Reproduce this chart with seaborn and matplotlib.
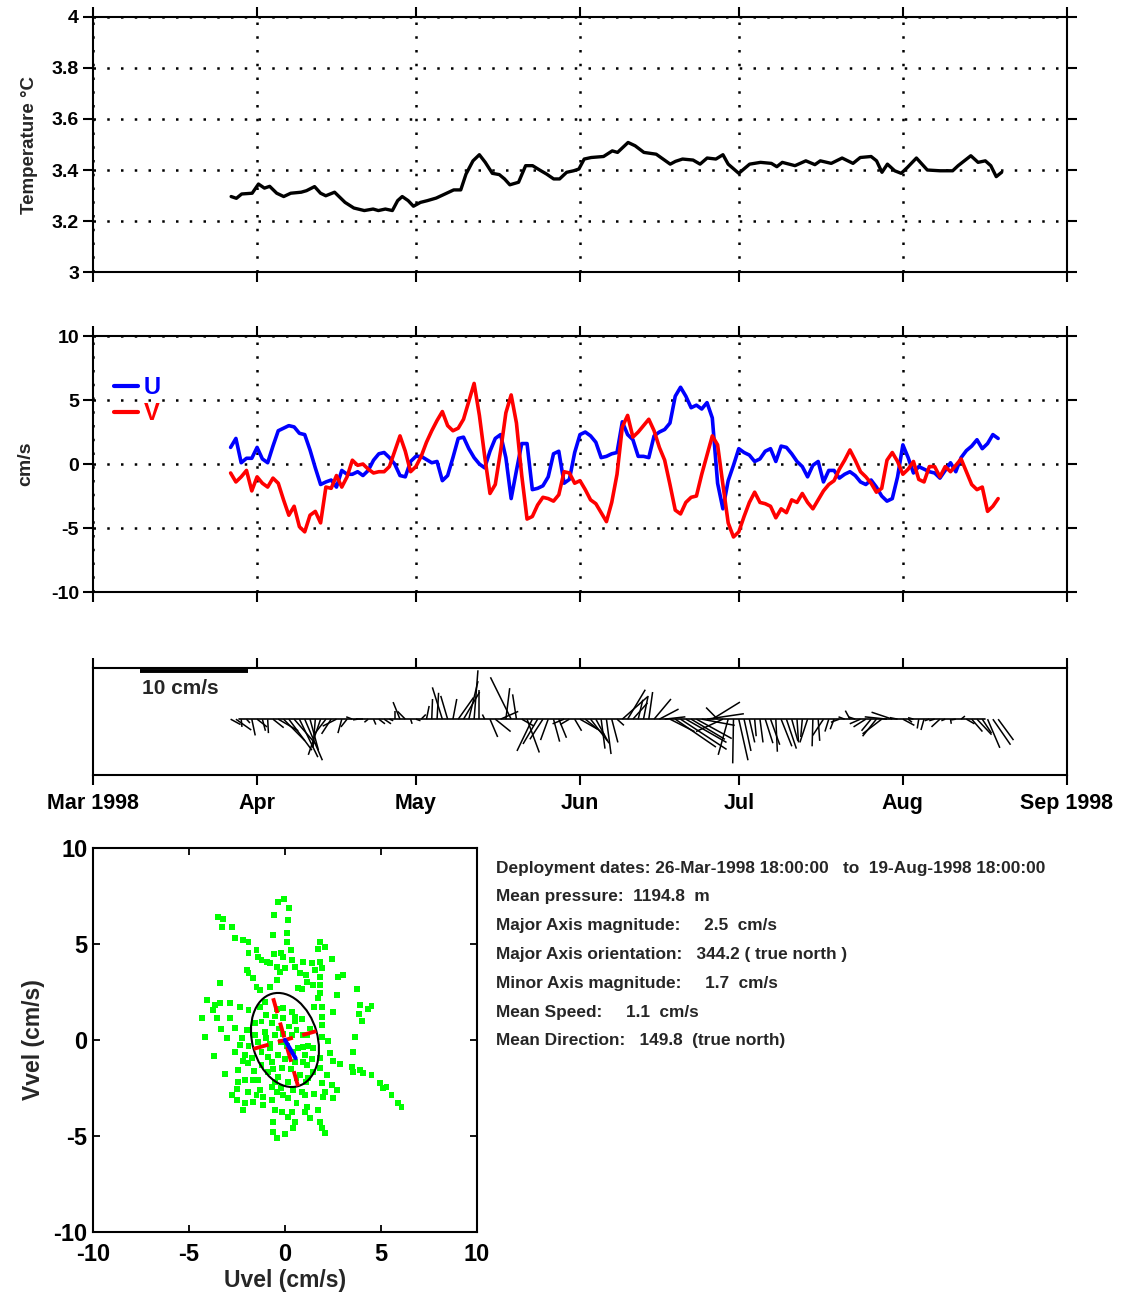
import numpy as np
import pandas as pd
import seaborn as sns
import matplotlib
import matplotlib.pyplot as plt
import matplotlib.dates as mdates
from matplotlib.patches import Ellipse
from matplotlib.collections import LineCollection
from matplotlib.ticker import FormatStrFormatter

#Theme first, fonts after (set_theme resets font.family)
sns.set_theme(style="ticks")
plt.rcParams["font.family"] = ["Liberation Sans", "DejaVu Sans"]
plt.rcParams["font.weight"] = "bold"
plt.rcParams["axes.labelweight"] = "bold"
plt.rcParams["axes.unicode_minus"] = False

#Data (days counted from 1998-03-01)
temp_days = [26.10, 27.09, 28.09, 30.07, 31.26, 32.39, 33.38, 34.71, 36.03, 37.36, 39.34, 40.34,
             41.86, 42.99, 43.98, 45.64, 46.63, 47.62, 49.28, 51.26, 52.92, 53.91, 55.24, 56.56,
             57.56, 58.42, 59.54, 60.54, 61.86, 63.19, 64.84, 66.50, 68.15, 69.48, 70.47, 71.79,
             72.99, 74.11, 75.44, 76.76, 77.75, 78.75, 80.40, 81.73, 83.05, 84.38, 85.70, 87.03,
             88.15, 89.48, 90.81, 91.80, 92.80, 94.12, 96.45, 98.10, 99.10, 101.09, 102.42, 104.08,
             106.40, 109.05, 110.05, 111.38, 113.37, 114.69, 116.02, 117.68, 119.01, 120.00, 122.00,
             124.05, 126.11, 128.16, 129.19, 130.22, 132.62, 134.67, 136.38, 137.41, 139.47, 141.52,
             143.58, 144.95, 147.00, 148.03, 149.05, 150.08, 151.45, 152.68, 153.85, 155.56, 157.62,
             160.01, 162.41, 163.44, 165.84, 167.21, 168.58, 169.61, 170.64, 171.66]
temp_vals = [3.296, 3.289, 3.306, 3.309, 3.345, 3.329, 3.336, 3.309, 3.296, 3.309, 3.313, 3.319,
             3.335, 3.309, 3.299, 3.313, 3.293, 3.273, 3.251, 3.241, 3.247, 3.241, 3.247, 3.241,
             3.280, 3.296, 3.280, 3.258, 3.273, 3.280, 3.290, 3.306, 3.322, 3.322, 3.384, 3.436,
             3.460, 3.430, 3.387, 3.382, 3.365, 3.342, 3.352, 3.417, 3.417, 3.400, 3.384, 3.365,
             3.365, 3.391, 3.397, 3.404, 3.443, 3.449, 3.453, 3.475, 3.469, 3.508, 3.495, 3.469,
             3.462, 3.423, 3.434, 3.443, 3.439, 3.423, 3.447, 3.443, 3.460, 3.423, 3.387,
             3.423, 3.430, 3.426, 3.413, 3.430, 3.417, 3.436, 3.421, 3.436, 3.426, 3.447,
             3.426, 3.449, 3.453, 3.436, 3.391, 3.423, 3.397, 3.387, 3.410, 3.447, 3.400,
             3.397, 3.397, 3.417, 3.456, 3.430, 3.436, 3.417, 3.374, 3.391]

uv_days = list(range(26, 172))
u_vals = [1.3, 2.0, 0.1, 0.45, 0.45, 1.3, 0.4, 0.1, 1.4, 2.6, 2.8, 3.0, 2.9, 2.4, 2.3, 1.1,
          -0.3, -1.6, -1.4, -1.25, -1.8, -0.5, -0.8, -0.8, -0.6, -0.9, -0.5, 0.3, 0.8, 0.9,
          0.5, 0.0, -0.9, -1.0, 0.2, 0.6, 0.6, 0.35, 0.1, 0.2, -1.3, -0.9, 0.5, 2.0, 2.1, 1.2,
          0.5, 0.0, -0.3, 1.0, 2.0, 2.3, 0.5, -2.7, -0.5, 1.6, 1.6, -2.0, -1.9, -1.7, -1.0, 0.8,
          1.0, -1.5, -1.2, 0.9, 2.3, 2.5, 2.2, 1.7, 0.5, 0.6, 0.8, 0.9, 3.3, 2.3, 1.9, 0.6,
          0.6, 0.5, 2.2, 2.5, 2.7, 3.2, 5.3, 6.0, 5.3, 4.4, 4.6, 4.3, 4.8, 3.6, -1.5, -3.5,
          -1.3, -0.1, 1.2, 0.9, 0.7, 0.2, 0.4, 1.0, 1.2, 0.2, 1.4, 1.3, 0.8, 0.2, -0.2, -1.0,
          -0.1, 0.2, -1.4, -0.5, -0.5, -1.1, -0.8, -0.6, -0.9, -1.4, -1.6, -1.25, -1.8, -2.5,
          -2.9, -2.7, -1.0, 1.5, 0.5, -0.7, -0.2, -0.4, -0.6, -0.7, -1.1, -0.5, 0.1, -0.6, 0.5,
          1.05, 1.4, 1.9, 1.2, 1.6, 2.3, 2.0]
v_vals = [-0.7, -1.4, -1.0, -0.5, -2.1, -1.0, -1.5, -1.8, -1.1, -1.5, -2.8, -4.0, -3.3, -4.9,
          -5.3, -4.0, -3.7, -4.6, -1.8, -1.9, -0.9, -1.8, -1.0, 0.3, -0.1, 0.0, -0.4, -0.7, -0.6,
          -0.6, -0.2, 1.0, 2.2, 1.0, -0.6, -0.2, 0.6, 1.7, 2.6, 3.4, 4.1, 3.0, 2.6, 2.8, 3.5,
          4.9, 6.3, 3.8, 0.6, -2.3, -1.6, 1.0, 4.0, 5.4, 3.2, -0.9, -4.3, -4.1, -3.2, -2.6, -2.7,
          -2.9, -2.4, -0.6, -0.7, -1.5, -1.3, -2.0, -2.8, -3.1, -3.8, -4.5, -3.0, -0.8, 2.9, 3.8,
          2.1, 2.5, 3.0, 3.5, 2.6, 1.3, 0.3, -1.6, -3.6, -3.9, -3.0, -2.6, -2.5, -0.8, 0.7, 2.2,
          1.5, -1.6, -4.6, -5.7, -5.3, -4.1, -3.0, -2.2, -3.0, -3.1, -3.3, -4.2, -3.5, -3.8, -2.8,
          -3.0, -2.3, -3.0, -3.5, -2.8, -2.1, -1.6, -1.3, -0.4, 0.3, 1.1, 0.3, -0.6, -1.0, -1.5,
          -2.2, -1.9, 0.3, 0.9, 0.2, -0.8, -0.4, 0.2, -1.2, -1.4, -0.2, -0.2, -1.0, -0.2, -0.6,
          -0.1, 0.4, -0.6, -1.6, -2.0, -1.8, -3.7, -3.3, -2.7]

scatter_u = [-3.47, -3.21, -3.30, -2.78, -2.60, -2.17, -1.90, -1.90, -1.48, -1.39, -1.22, -0.95,
             -0.61, -0.56, -0.35, -0.03, 0.22, 0.14, 0.09, 0.09, 0.31, -0.21, -0.57, -0.78, -0.43,
             -0.09, 0.35, 0.52, 0.95, 0.78, 0.69, -1.99, -1.90, -1.65, -3.39, -1.48, -1.30, -0.78,
             -0.43, -0.26, 0.00, -4.08, -3.65, -3.39, -2.86, -2.34, -3.73, -4.34, -3.56, -2.86,
             -1.90, -1.30, -1.04, -0.09, 0.35, 0.52,
             1.82, 2.08, 1.74, 2.43, 0.95, 1.39, 1.82, 1.56, 1.91, 1.09, 1.82, 2.78, 3.04, 1.16,
             1.48, 1.82, 3.77, 0.87, 1.82, 2.73, 1.74, 1.51, 1.91, 3.91, 4.34, 4.51, 2.48, 1.91, 3.87,
             -3.33, -4.17, -3.04, -2.60, -2.26, -1.99, -2.34, -2.60, -3.70, -2.08, -1.91, -2.43,
             -3.13, -2.08, -1.65, -2.52, -1.91, -1.48, -1.13, -2.52, -2.08, -1.13, -0.69, -0.43,
             -0.09, 0.17, -0.52, -0.17, 0.35, 0.17, 0.52, -0.61, 0.43, -0.61, 0.00, -0.43, -2.17,
             -1.65, -1.22, -0.69, -0.09, 0.52, -1.04, -0.52, -1.39, -1.22, -0.78, -0.35, -0.69,
             -1.22, -0.17, -0.87, -0.35, 0.17, 0.69, 0.52, 0.78, -1.56, -1.74, -1.56, -0.52, 0.35,
             0.95, 0.95, 0.87, -0.69, -1.30, -2.78, -2.43,
             -1.0, -0.3, 0.2, 0.1, -0.2, 0.4, -0.9, -0.5, 0.4, 0.6, -1.6, -1.9, -0.1, 0.6, 1.3,
             1.2, 1.4, -0.4, -1.0, 0.9, -0.8, 0.0, 0.3, -0.6, 1.1, 1.5, -2.2, -1.4, -0.2, 0.6,
             3.99, 1.91, 3.65, 1.91, 2.26, 1.13, 0.95, 1.48, 2.34, 2.52, 2.86, 1.82, 3.56, 3.47,
             3.56, 3.91, 4.08, 4.51, 2.17, 1.82, 1.48, 1.22, 1.91, 2.43, 2.69, 2.08, 2.52, 2.00,
             4.95, 5.29, 5.12, 5.55, 5.90, 6.07, 1.04, 1.13, 1.04, 1.74, 1.30, 1.82, 1.91, 2.08,
             1.04, 1.13]
scatter_v = [6.42, 6.28, 5.90, 5.90, 5.29, 5.21, 5.12, 4.51, 4.69, 4.34, 4.17, 4.08,
             5.47, 6.51, 7.20, 7.33, 6.89, 6.25, 5.56, 5.12, 4.69, 4.55, 4.48, 4.00, 3.82,
             4.34, 4.17, 3.82, 4.08, 3.47, 2.69, 3.65, 3.47, 3.21, 2.95, 2.78, 2.60, 2.78,
             3.13, 3.56, 3.73, 2.08, 1.82, 1.91, 1.91, 1.74, 1.56, 1.16, 1.13, 1.13,
             1.56, 1.74, 2.00, 1.65, 1.47, 1.21,
             5.12, 4.86, 4.72, 4.21, 4.08, 4.00, 4.08, 3.65, 3.73, 3.39, 3.26, 3.30, 3.39, 3.04,
             2.86, 2.86, 2.64, 2.64, 2.43, 2.34, 2.17, 1.70, 1.74, 1.82, 1.61, 1.77, 1.47, 1.21, 1.35,
             0.57, 0.17, 0.12, 0.61, 0.09, 0.52, -0.26, -0.61, -0.82, -0.78, -1.22, -1.56,
             -1.79, -2.08, -2.08, -2.55, -2.69, -2.86, -2.95, -3.13, -3.30, -3.39, -3.13, -2.69,
             -2.86, -3.04, -3.65, -3.73, -3.73, -3.99, -4.25, -4.25, -4.60, -4.81, -4.90, -5.12, -3.65,
             -3.25, 0.96, 0.87, 1.13, 0.96, 0.43, 0.26, -0.09, -0.61, -0.43, -0.78, -1.13,
             -1.30, -1.47, -1.65, -1.91, -2.17, -0.43, -1.13, -1.82, 0.26, -0.95, 0.87, 1.22, 0.26,
             0.26, -1.13, -2.69, -2.43, -2.60, -2.86, -2.17,
             0.1, 0.6, 0.7, -0.3, -0.1, -0.6, -0.9, -2.2, -2.6, -3.3, -1.6, -0.3, 0.3, 0.5, 0.6,
             -0.3, -1.0, 1.6, 1.3, 1.1, -0.2, -1.0, -1.5, -1.5, -2.2, -2.8, -1.1, -2.1, -2.5, -2.0,
             0.99, 0.78, 0.17, 0.17, -0.05, 0.26, -0.35, -0.43, -0.69, -1.09, -1.27, -0.95, -0.61, -1.39,
             -1.65, -1.56, -1.74, -1.82, -1.82, -1.47, -1.65, -2.00, -2.26, -2.34, -2.60, -2.69, -3.04, -2.95,
             -2.26, -2.43, -2.52, -2.86, -3.30, -3.47, -2.86, -3.47, -3.73, -3.65, -4.08, -4.25, -4.60, -4.86,
             -0.78, -1.30]

major_mag = 2.5
major_orient = 344.2
minor_mag = 1.7
mean_speed = 1.1
mean_dir = 149.8

month_labels = ["Mar 1998", "Apr", "May", "Jun", "Jul", "Aug", "Sep 1998"]
info_lines = ["Deployment dates: 26-Mar-1998 18:00:00   to  19-Aug-1998 18:00:00",
              "Mean pressure:  1194.8  m",
              "Major Axis magnitude:     2.5  cm/s",
              "Major Axis orientation:   344.2 ( true north )",
              "Minor Axis magnitude:     1.7  cm/s",
              "Mean Speed:     1.1  cm/s",
              "Mean Direction:   149.8  (true north)"]

start = pd.Timestamp("1998-03-01")
def to_dates(days):
    return start + pd.to_timedelta(np.asarray(days, dtype=float), unit="D")

month_ticks = pd.date_range("1998-03-01", "1998-09-01", freq="MS")
xlim = mdates.date2num([month_ticks[0], month_ticks[-1]])

fig = plt.figure(figsize=(11.23, 12.96), dpi=100)
ax_t = fig.add_axes([0.0828, 0.7901, 0.8673, 0.1968])
ax_v = fig.add_axes([0.0828, 0.5432, 0.8673, 0.1975])
ax_s = fig.add_axes([0.0828, 0.4020, 0.8673, 0.0826])
ax_e = fig.add_axes([0.0828, 0.0494, 0.3419, 0.2963])

def style_time_axis(ax, grid=True):
    ax.set_xlim(xlim)
    ax.set_xticks(month_ticks)
    ax.tick_params(direction="out", length=7, width=1.5, top=True, right=True,
                   labelsize=14, colors="black", pad=3)
    if grid:
        ax.grid(True, linestyle=(0, (1, 4.5)), color="black", linewidth=1.8)
    for sp in ax.spines.values():
        sp.set_visible(True)
        sp.set_linewidth(1.5)
        sp.set_color("black")
    ax.set_xlabel("")

#Temperature
temp_df = pd.DataFrame({"time": to_dates(temp_days), "temp": temp_vals})
sns.lineplot(data=temp_df, x="time", y="temp", ax=ax_t, color="black", linewidth=2.4)
ax_t.set_ylim(3, 4)
ax_t.set_yticks(np.round(np.arange(3, 4.01, 0.2), 1))
ax_t.yaxis.set_major_formatter(FormatStrFormatter("%g"))
style_time_axis(ax_t)
ax_t.tick_params(labelbottom=False)
ax_t.set_ylabel("Temperature °C", fontsize=13.5, labelpad=10)

#U and V
uv_df = pd.DataFrame({"time": list(to_dates(uv_days)) * 2,
                      "vel": u_vals + v_vals,
                      "comp": ["U"] * len(u_vals) + ["V"] * len(v_vals)})
sns.lineplot(data=uv_df, x="time", y="vel", hue="comp", palette={"U": "blue", "V": "red"},
             ax=ax_v, linewidth=2.6)
ax_v.set_ylim(-10, 10)
ax_v.set_yticks([-10, -5, 0, 5, 10])
style_time_axis(ax_v)
ax_v.tick_params(labelbottom=False)
ax_v.set_ylabel("cm/s", fontsize=14, labelpad=12)
leg = ax_v.legend(loc="upper left", bbox_to_anchor=(0.012, 0.88), frameon=False,
                  handlelength=1.0, handletextpad=0.25, labelspacing=0.12,
                  borderaxespad=0, prop={"size": 17, "weight": "bold"}, labelcolor="linecolor")
for h in leg.legend_handles:
    h.set_linewidth(3)

#Stick plot
t_num = mdates.date2num(to_dates(uv_days))
stick_days = 1.45   # days of x per cm/s for the sticks
bar_days = 20.4     # drawn length of the 10 cm/s scale bar
segs = [[(t, 0), (t + u * stick_days, v)] for t, u, v in zip(t_num, u_vals, v_vals)]
ax_s.add_collection(LineCollection(segs, colors="black", linewidths=1.1))
ax_s.plot([t_num[0] + 1.5, t_num[-1] - 2.5], [0, 0], color="black", linewidth=1.2)
ax_s.xaxis_date()
ax_s.set_ylim(-7.2, 6.6)
ax_s.set_yticks([])
style_time_axis(ax_s, grid=False)
ax_s.set_xticklabels(month_labels, fontsize=15.5)
ax_s.tick_params(axis="x", pad=6)
bar_x0 = mdates.date2num(pd.Timestamp("1998-03-09 21:00"))
ax_s.plot([bar_x0, bar_x0 + bar_days], [6.25, 6.25], color="black", linewidth=2.8,
          solid_capstyle="butt", clip_on=False)
ax_s.text(bar_x0 + 0.3, 4.0, "10 cm/s", fontsize=15, fontweight="bold", va="center", ha="left")

#Scatter with variance ellipse
sns.scatterplot(x=scatter_u, y=scatter_v, ax=ax_e, color="#00ff00", marker="s", s=18,
                linewidth=0, edgecolor="none")
th = np.deg2rad(major_orient)
e_major = np.array([np.sin(th), np.cos(th)])
e_minor = np.array([np.cos(th), -np.sin(th)])
ell_angle = 90 - major_orient + 360
ax_e.add_patch(Ellipse((0, 0), width=2 * major_mag, height=2 * minor_mag, angle=ell_angle,
                       fill=False, edgecolor="black", linewidth=1.5))
for vec, mag in [(e_major, major_mag), (e_minor, minor_mag)]:
    ax_e.plot([-mag * vec[0], mag * vec[0]], [-mag * vec[1], mag * vec[1]], color="red",
              linewidth=2.8, linestyle=(0, (4, 2.5)))
md = np.deg2rad(mean_dir)
ax_e.plot([0, mean_speed * np.sin(md)], [0, mean_speed * np.cos(md)], color="blue", linewidth=3)
ax_e.set_xlim(-10, 10)
ax_e.set_ylim(-10, 10)
ax_e.set_xticks([-10, -5, 0, 5, 10])
ax_e.set_yticks([-10, -5, 0, 5, 10])
ax_e.tick_params(direction="in", length=5, width=1.3, top=True, right=True, labelsize=17,
                 colors="black")
ax_e.tick_params(axis="x", pad=8)
ax_e.tick_params(axis="y", pad=4)
for sp in ax_e.spines.values():
    sp.set_visible(True)
    sp.set_linewidth(1.5)
    sp.set_color("black")
ax_e.set_xlabel("Uvel (cm/s)", fontsize=16.5, labelpad=2)
ax_e.set_ylabel("Vvel (cm/s)", fontsize=16.5, labelpad=6)

#Statistics text block
for i, line in enumerate(info_lines):
    fig.text(0.4417, 1 - (868 + 28.8 * i) / 1296, line, fontsize=12.4, fontweight="bold",
             va="center", ha="left")

fig.savefig("out.png", dpi=100)
